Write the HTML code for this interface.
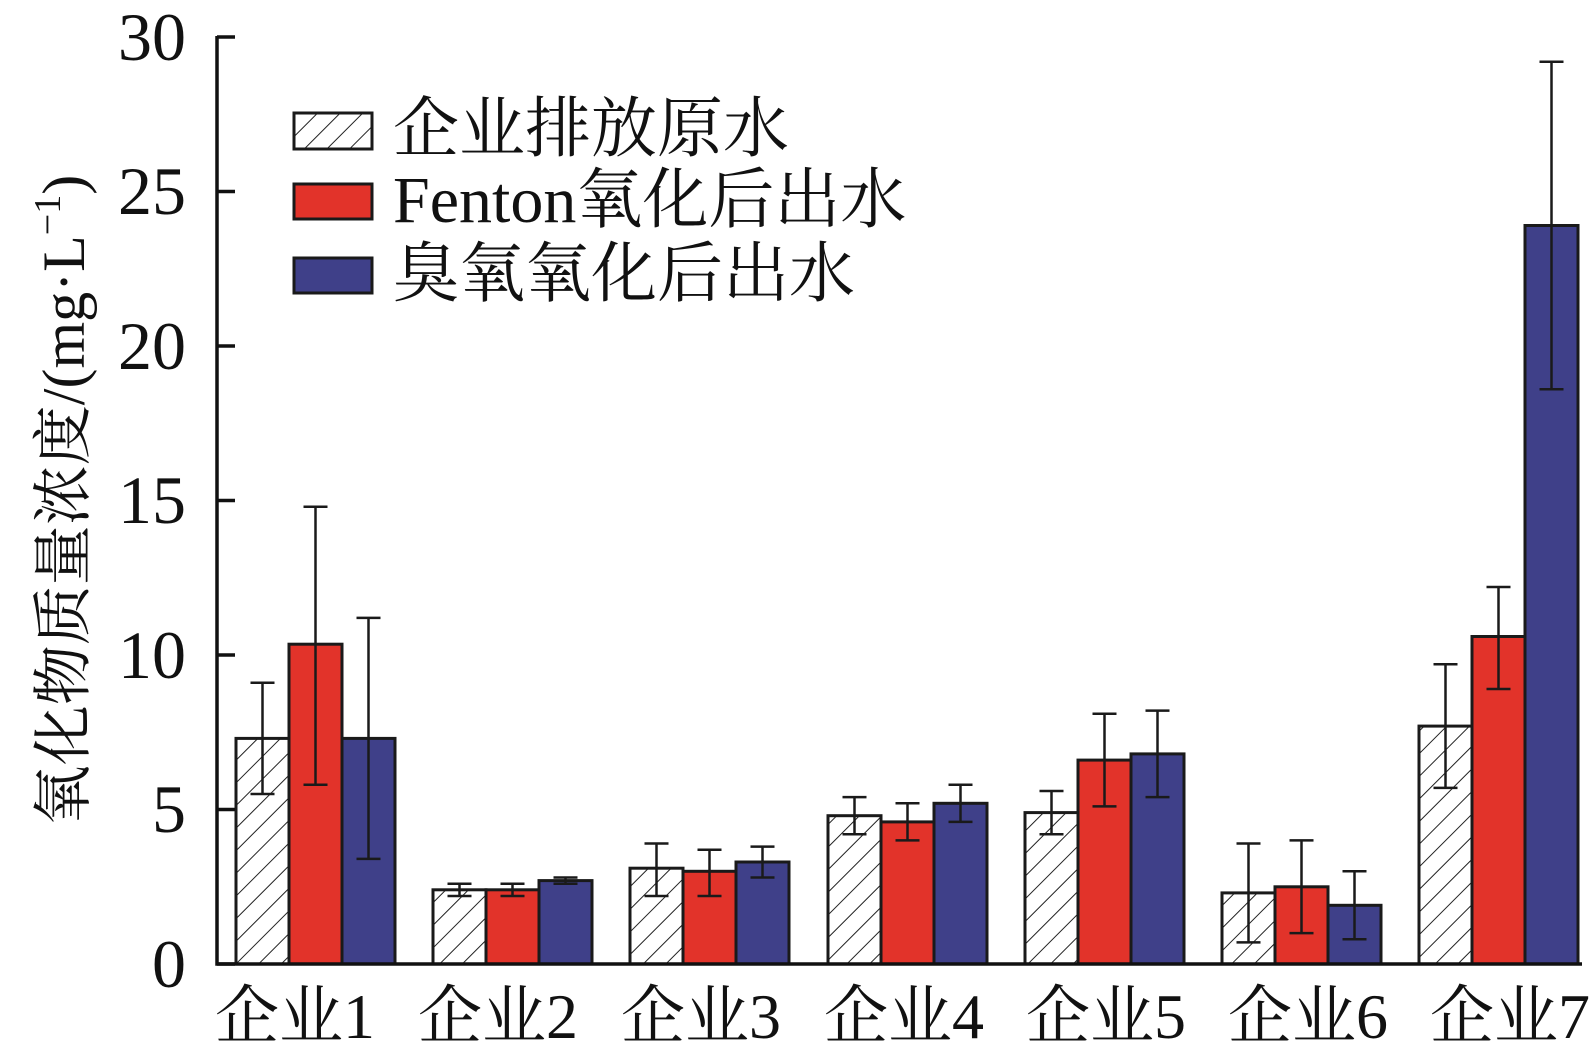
<!DOCTYPE html>
<html><head><meta charset="utf-8"><style>html,body{margin:0;padding:0;background:#fff}</style></head><body>
<svg width="1596" height="1058" viewBox="0 0 1596 1058" xmlns="http://www.w3.org/2000/svg" font-family="'Liberation Serif','Noto Serif CJK SC',serif">
<defs>
<pattern id="h" patternUnits="userSpaceOnUse" width="16" height="16" patternTransform="rotate(45)">
<rect width="16" height="16" fill="#fff"/><line x1="0" y1="0" x2="0" y2="16" stroke="#222" stroke-width="2"/>
</pattern>
</defs>
<g stroke="#1a1a1a" stroke-width="3">
<rect x="236" y="738.4" width="53" height="225.6" fill="url(#h)"/>
<rect x="289" y="644.2" width="53" height="319.8" fill="#e2332a"/>
<rect x="342" y="738.4" width="53" height="225.6" fill="#3f4089"/>
<rect x="433" y="889.8" width="53" height="74.2" fill="url(#h)"/>
<rect x="486" y="889.8" width="53" height="74.2" fill="#e2332a"/>
<rect x="539" y="880.6" width="53" height="83.4" fill="#3f4089"/>
<rect x="630" y="868.2" width="53" height="95.8" fill="url(#h)"/>
<rect x="683" y="871.3" width="53" height="92.7" fill="#e2332a"/>
<rect x="736" y="862" width="53" height="102" fill="#3f4089"/>
<rect x="828" y="815.7" width="53" height="148.3" fill="url(#h)"/>
<rect x="881" y="821.9" width="53" height="142.1" fill="#e2332a"/>
<rect x="934" y="803.3" width="53" height="160.7" fill="#3f4089"/>
<rect x="1025" y="812.6" width="53" height="151.4" fill="url(#h)"/>
<rect x="1078" y="760.1" width="53" height="203.9" fill="#e2332a"/>
<rect x="1131" y="753.9" width="53" height="210.1" fill="#3f4089"/>
<rect x="1222" y="892.9" width="53" height="71.1" fill="url(#h)"/>
<rect x="1275" y="886.8" width="53" height="77.2" fill="#e2332a"/>
<rect x="1328" y="905.3" width="53" height="58.7" fill="#3f4089"/>
<rect x="1419" y="726.1" width="53" height="237.9" fill="url(#h)"/>
<rect x="1472" y="636.5" width="53" height="327.5" fill="#e2332a"/>
<rect x="1525" y="225.5" width="53" height="738.5" fill="#3f4089"/>
</g>
<g stroke="#1a1a1a" stroke-width="2.5" fill="none">
<path d="M262.5 794V682.8M250.5 794h24M250.5 682.8h24"/>
<path d="M315.5 784.8V506.7M303.5 784.8h24M303.5 506.7h24"/>
<path d="M368.5 858.9V617.9M356.5 858.9h24M356.5 617.9h24"/>
<path d="M459.5 896V883.7M447.5 896h24M447.5 883.7h24"/>
<path d="M512.5 896V883.7M500.5 896h24M500.5 883.7h24"/>
<path d="M565.5 883.7V877.5M553.5 883.7h24M553.5 877.5h24"/>
<path d="M656.5 896V843.5M644.5 896h24M644.5 843.5h24"/>
<path d="M709.5 896V849.7M697.5 896h24M697.5 849.7h24"/>
<path d="M762.5 877.5V846.6M750.5 877.5h24M750.5 846.6h24"/>
<path d="M854.5 834.2V797.1M842.5 834.2h24M842.5 797.1h24"/>
<path d="M907.5 840.4V803.3M895.5 840.4h24M895.5 803.3h24"/>
<path d="M960.5 821.9V784.8M948.5 821.9h24M948.5 784.8h24"/>
<path d="M1051.5 834.2V791M1039.5 834.2h24M1039.5 791h24"/>
<path d="M1104.5 806.4V713.7M1092.5 806.4h24M1092.5 713.7h24"/>
<path d="M1157.5 797.1V710.6M1145.5 797.1h24M1145.5 710.6h24"/>
<path d="M1248.5 942.4V843.5M1236.5 942.4h24M1236.5 843.5h24"/>
<path d="M1301.5 933.1V840.4M1289.5 933.1h24M1289.5 840.4h24"/>
<path d="M1354.5 939.3V871.3M1342.5 939.3h24M1342.5 871.3h24"/>
<path d="M1445.5 787.9V664.3M1433.5 787.9h24M1433.5 664.3h24"/>
<path d="M1498.5 689V587M1486.5 689h24M1486.5 587h24"/>
<path d="M1551.5 389.3V61.7M1539.5 389.3h24M1539.5 61.7h24"/>
</g>
<g stroke="#111" stroke-width="3.5" fill="none">
<path d="M217 36V964H1582"/>
<path d="M217 964h18M217 809.5h18M217 655h18M217 500.5h18M217 346h18M217 191.5h18M217 37h18"/>
</g>
<g font-size="68" text-anchor="end" fill="#111">
<text x="186" y="987">0</text>
<text x="186" y="832">5</text>
<text x="186" y="678">10</text>
<text x="186" y="523">15</text>
<text x="186" y="369">20</text>
<text x="186" y="214">25</text>
<text x="186" y="60">30</text>
</g>
<g font-size="64" text-anchor="middle" fill="#111">
<text x="295" y="1038">企业1</text>
<text x="498" y="1038">企业2</text>
<text x="701" y="1038">企业3</text>
<text x="904" y="1038">企业4</text>
<text x="1106" y="1038">企业5</text>
<text x="1308" y="1038">企业6</text>
<text x="1510" y="1038">企业7</text>
</g>
<text transform="translate(84,500) rotate(-90)" font-size="60" text-anchor="middle" fill="#111">氧化物质量浓度/(mg·L<tspan font-size="38" dy="-24">−1</tspan><tspan dy="24">)</tspan></text>
<g stroke="#1a1a1a" stroke-width="3">
<rect x="294" y="113" width="78" height="36" fill="url(#h)"/>
<rect x="294" y="184" width="78" height="35" fill="#e2332a"/>
<rect x="294" y="258" width="78" height="35" fill="#3f4089"/>
</g>
<g font-size="66" fill="#111">
<text x="393" y="151">企业排放原水</text>
<text x="393" y="222">Fenton氧化后出水</text>
<text x="393" y="296">臭氧氧化后出水</text>
</g>
</svg>
</body></html>
